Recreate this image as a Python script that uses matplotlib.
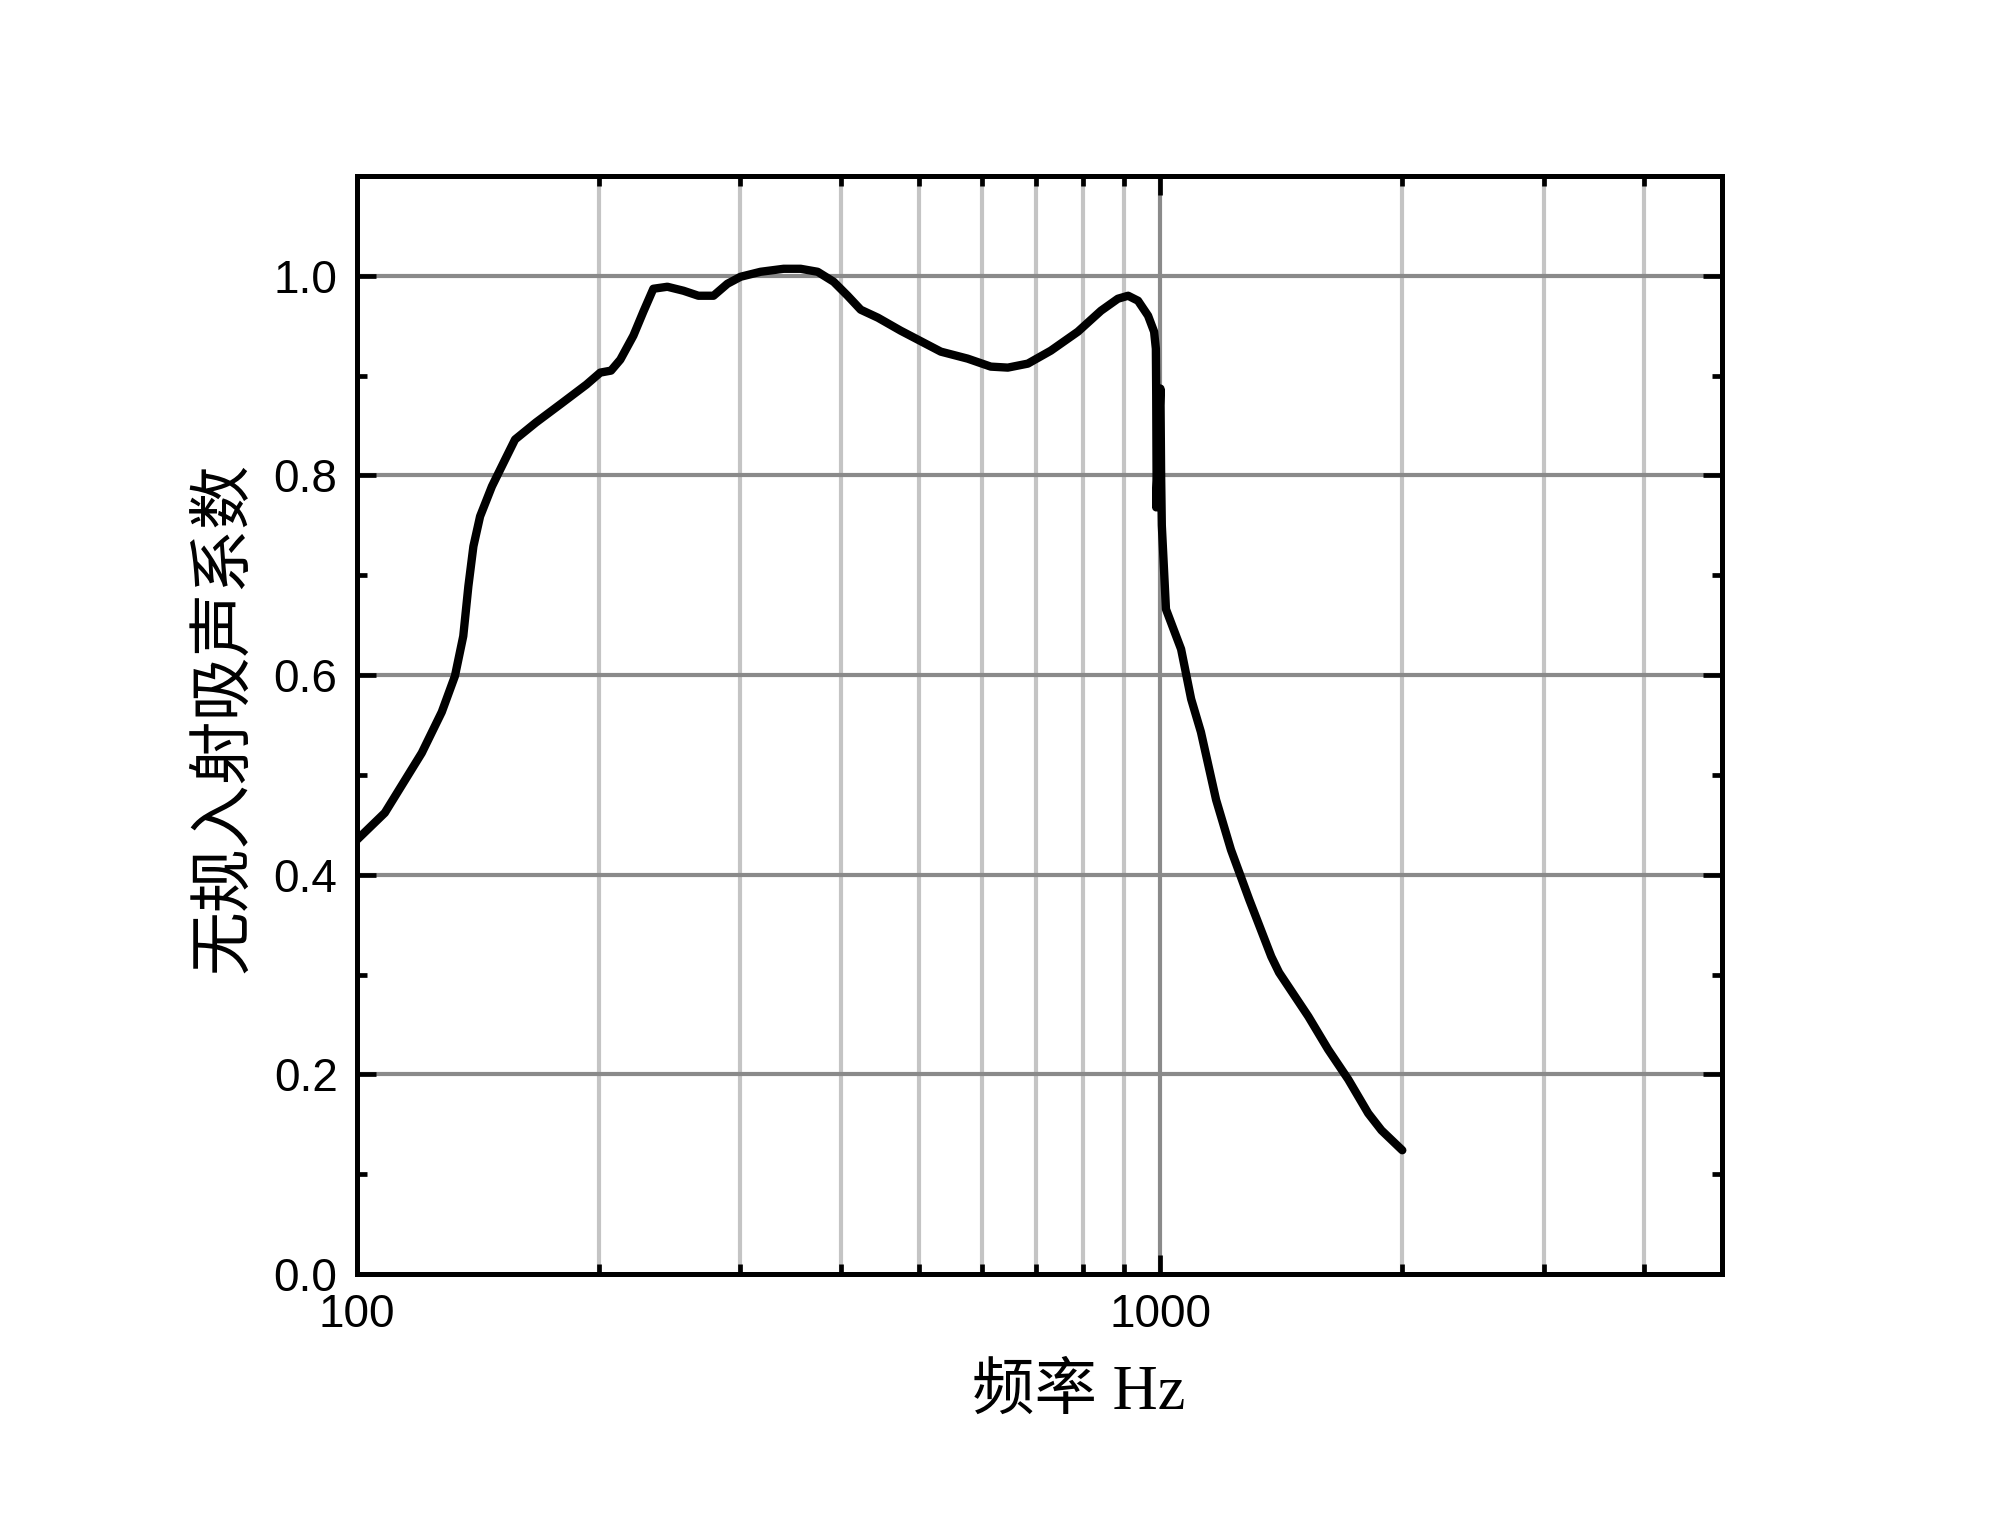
import matplotlib
matplotlib.use("Agg")
import matplotlib.pyplot as plt
from matplotlib.ticker import FixedLocator, NullFormatter

# frequency (Hz) and random incidence absorption coefficient
freq = [100, 108.3, 120.4, 127.5, 132.4, 135.6, 137.6, 139.6, 142.3, 147.2,
        152.9, 157.3, 167, 179.6, 193, 200.8, 207.1, 212.7, 220.8, 227.2,
        233.8, 243.4, 254.9, 266, 277.8, 289.1, 300.2, 317.9, 339.6, 356.6,
        374.4, 392, 408, 423.6, 445, 475, 532.9, 575.5, 614.9, 645.7,
        683.9, 730.5, 789.3, 843.4, 885.2, 911.6, 937.8, 965.2, 982, 987,
        988, 989, 988, 1000, 1002, 1004, 1016, 1061, 1092, 1123,
        1173, 1224, 1290, 1374, 1405, 1528, 1617, 1713, 1814, 1884, 2000]
alpha = [0.435, 0.462, 0.522, 0.563, 0.599, 0.639, 0.689, 0.729, 0.759, 0.789,
         0.816, 0.836, 0.853, 0.872, 0.891, 0.903, 0.905, 0.916, 0.940, 0.964,
         0.987, 0.989, 0.985, 0.980, 0.980, 0.992, 0.999, 1.004, 1.007, 1.007,
         1.004, 0.994, 0.980, 0.966, 0.958, 0.945, 0.924, 0.917, 0.909, 0.908,
         0.912, 0.925, 0.944, 0.965, 0.977, 0.980, 0.975, 0.960, 0.944, 0.927,
         0.880, 0.800, 0.768, 0.887, 0.800, 0.750, 0.666, 0.626, 0.576, 0.543,
         0.475, 0.425, 0.375, 0.318, 0.302, 0.258, 0.225, 0.195, 0.161, 0.144, 0.124]

xticks_major = [100, 1000]
xticks_minor = [200, 300, 400, 500, 600, 700, 800, 900, 2000, 3000, 4000]
yticks_major = [0.0, 0.2, 0.4, 0.6, 0.8, 1.0]
yticks_minor = [0.1, 0.3, 0.5, 0.7, 0.9]

fig = plt.figure(figsize=(20, 15.3), dpi=100)
ax = fig.add_axes([0.1785, 0.1673, 0.6825, 0.7177])

ax.set_xscale('log')
ax.set_xlim(100, 5000)
ax.set_ylim(0, 1.1)

# grid lines
for f in xticks_minor:
    ax.axvline(f, color='#c4c4c4', lw=3, zorder=1)
ax.axvline(1000, color='#8a8a8a', lw=3, zorder=1)
for v in yticks_major[1:]:
    ax.axhline(v, color='#8a8a8a', lw=3, zorder=1)

ax.plot(freq, alpha, color='black', lw=6, zorder=3, solid_capstyle='round',
        solid_joinstyle='round')

ax.xaxis.set_major_locator(FixedLocator(xticks_major))
ax.xaxis.set_minor_locator(FixedLocator(xticks_minor))
ax.xaxis.set_minor_formatter(NullFormatter())
ax.set_xticklabels(['100', '1000'])
ax.yaxis.set_major_locator(FixedLocator(yticks_major))
ax.yaxis.set_minor_locator(FixedLocator(yticks_minor))
ax.set_yticklabels(['0.0', '0.2', '0.4', '0.6', '0.8', '1.0'])

ax.tick_params(which='both', direction='in', top=True, right=True, width=3.4, color='black')
ax.tick_params(which='major', length=14, pad=14)
ax.tick_params(which='minor', length=7)
for lab in ax.get_xticklabels() + ax.get_yticklabels():
    lab.set_family('Liberation Sans')
    lab.set_fontsize(33)

for s in ax.spines.values():
    s.set_linewidth(3.6)
    s.set_zorder(4)

ax.set_xlabel('频率 Hz', family=['Liberation Serif', 'Noto Sans CJK SC'], fontsize=45,
              va='center', ha='center')
ax.xaxis.set_label_coords(0.529, -0.109)
ax.set_ylabel('无规入射吸声系数', family=['Noto Sans CJK SC'], fontsize=46,
              va='center', ha='center')
ax.yaxis.set_label_coords(-0.098, 0.507)

fig.savefig('out.png', dpi=100)
